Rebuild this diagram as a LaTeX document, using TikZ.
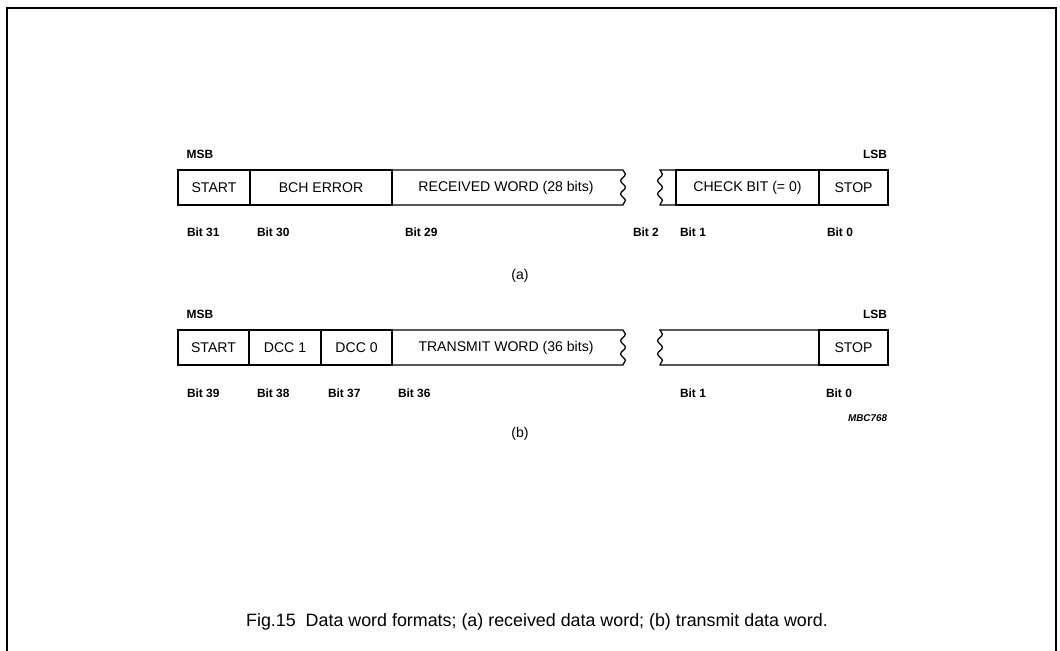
\documentclass[tikz,border=0pt]{standalone}
\usepackage{fontspec}
\setmainfont{Liberation Sans}
\usetikzlibrary{decorations.pathmorphing}

\begin{document}
\begin{tikzpicture}[x=0.025cm, y=-0.025cm, line width=0.9pt,
  every node/.style={font=\fontsize{10}{12}\selectfont, inner sep=0pt, outer sep=0pt},
  field/.style={draw, anchor=north west, minimum height=0.875cm},
  bitlbl/.style={anchor=west, font=\fontsize{8.5}{10}\selectfont\bfseries},
  endlbl/.style={font=\fontsize{8.5}{10}\selectfont\bfseries},
  brk/.style={decoration={snake, segment length=0.33cm, amplitude=0.06cm}}]
\useasboundingbox (0,0) rectangle (1060,651);
% frame
\draw[line width=1.4pt] (7,651) -- (7,8) -- (1056,8) -- (1056,651);

% (a) received data word
\node[endlbl] (msbA) at (200,154) {MSB};
\node[endlbl] (lsbA) at (875,154) {LSB};
\node[field, minimum width=1.8cm] (startA) at (178,170) {START};
\node[field, minimum width=3.55cm] (bchA) at (startA.north east) {BCH ERROR};
\draw (bchA.north east) -- (623,170) decorate[brk]{-- (623,205)} -- (bchA.south east);
\node (recvA) at (506,187.5) {RECEIVED WORD (28 bits)};
\node[field, minimum width=3.575cm] (checkA) at (676,170) {CHECK BIT (= 0)};
\node[field, minimum width=1.725cm] (stopA) at (checkA.north east) {STOP};
\draw (checkA.north west) -- (660,170) decorate[brk]{-- (660,205)} -- (checkA.south west);
\foreach \x/\b in {187/31, 257/30, 405/29, 633/2, 680/1, 827/0}
  \node[bitlbl] (bitA\b) at (\x,232) {Bit \b};
\node (capA) at (520,276) {(a)};

% (b) transmit data word
\node[endlbl] (msbB) at (200,314) {MSB};
\node[endlbl] (lsbB) at (875,314) {LSB};
\node[field, minimum width=1.775cm] (startB) at (178,330) {START};
\node[field, minimum width=1.8cm] (dcc1B) at (startB.north east) {DCC 1};
\node[field, minimum width=1.775cm] (dcc0B) at (dcc1B.north east) {DCC 0};
\draw (dcc0B.north east) -- (623,330) decorate[brk]{-- (623,365)} -- (dcc0B.south east);
\node (xmitB) at (506,347.5) {TRANSMIT WORD (36 bits)};
\node[field, minimum width=1.725cm] (stopB) at (819,330) {STOP};
\draw (stopB.north west) -- (660,330) decorate[brk]{-- (660,365)} -- (stopB.south west);
\foreach \x/\b in {187/39, 257/38, 328/37, 398/36, 680/1, 826/0}
  \node[bitlbl] (bitB\b) at (\x,393) {Bit \b};
\node[anchor=east, font=\fontsize{7}{8}\selectfont\bfseries\itshape] (code) at (887,418) {MBC768};
\node (capB) at (520,434) {(b)};

\node[font=\fontsize{12.7}{15}\selectfont] (fig) at (537,622)
  {Fig.15\ \ Data word formats; (a) received data word; (b) transmit data word.};
\end{tikzpicture}
\end{document}
